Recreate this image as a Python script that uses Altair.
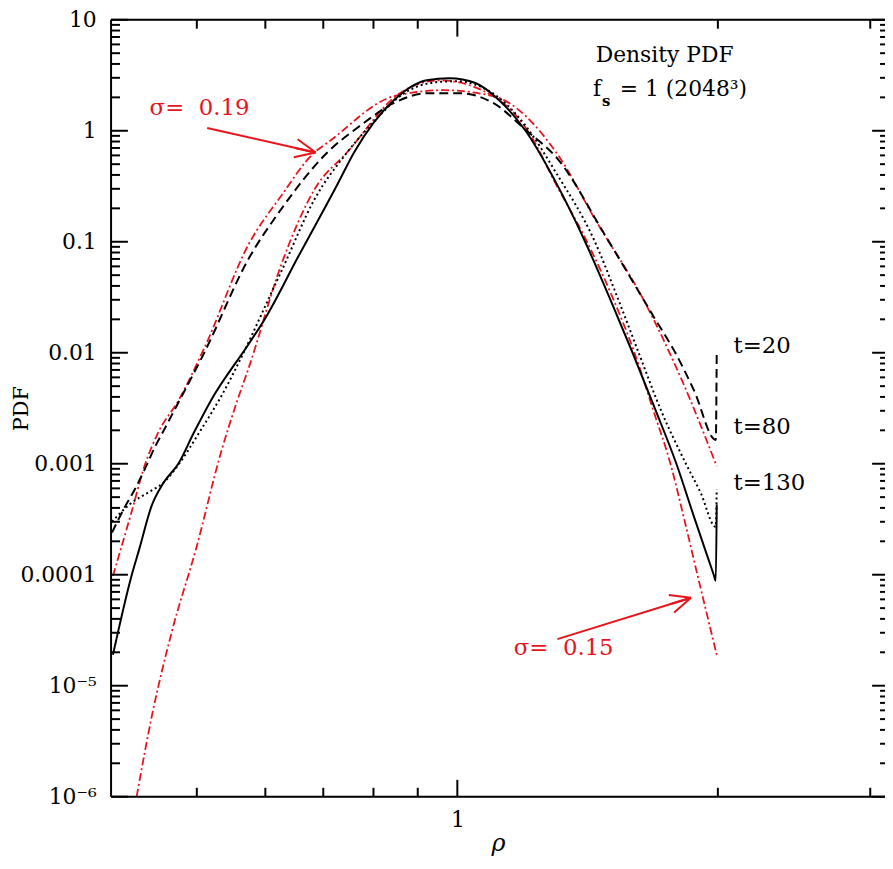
import altair as alt
import pandas as pd

# ---------------- data ----------------
# t=130 (solid black)
t130_rho = [0.400, 0.420, 0.429, 0.443, 0.458, 0.476, 0.496, 0.519, 0.574, 0.600, 0.654, 0.727, 0.760, 0.845, 0.922, 0.979, 1.051, 1.117, 1.199, 1.298, 1.405, 1.500, 1.594, 1.690, 1.791, 1.880, 1.978, 1.989, 1.994]
t130_pdf = [1.9e-5, 9.6e-5, 1.7e-4, 4.1e-4, 6.8e-4, 1.0e-3, 1.9e-3, 3.7e-3, 1.2e-2, 0.0205, 0.072, 0.33, 0.64, 1.89, 2.85, 2.97, 2.68, 1.89, 1.0, 0.35, 0.1, 0.031, 0.01, 0.0032, 0.001, 0.00032, 1.0e-4, 8.8e-5, 4.3e-4]

# t=80 (dotted black)
t80_rho = [0.399, 0.418, 0.441, 0.458, 0.477, 0.503, 0.530, 0.626, 0.684, 0.746, 0.800, 0.870, 0.950, 1.000, 1.050, 1.120, 1.200, 1.300, 1.442, 1.530, 1.620, 1.720, 1.837, 1.910, 1.989, 1.994]
t80_pdf = [3.0e-4, 4.3e-4, 5.6e-4, 6.8e-4, 1.0e-3, 1.9e-3, 3.7e-3, 0.054, 0.242, 0.64, 1.2, 2.2, 2.75, 2.8, 2.6, 1.95, 1.1, 0.42, 0.1, 0.032, 0.01, 0.003, 0.001, 5.5e-4, 2.7e-4, 5.9e-4]

# t=20 (dashed black)
t20_rho = [0.399, 0.413, 0.424, 0.435, 0.447, 0.458, 0.469, 0.510, 0.574, 0.626, 0.708, 0.772, 0.845, 0.922, 1.005, 1.100, 1.199, 1.308, 1.481, 1.690, 1.781, 1.877, 1.989, 1.994]
t20_pdf = [2.4e-4, 4.1e-4, 5.9e-4, 8.8e-4, 1.4e-3, 2.0e-3, 2.85e-3, 0.010, 0.0705, 0.197, 0.64, 1.11, 1.78, 2.18, 2.18, 1.78, 1.02, 0.55, 0.115, 0.0205, 0.0104, 0.00458, 0.00164, 0.0104]

# lognormal sigma = 0.19 (red dash-dot, wide)
s19_rho = [0.400, 0.420, 0.435, 0.451, 0.476, 0.510, 0.574, 0.626, 0.684, 0.708, 0.845, 0.964, 1.100, 1.308, 1.442, 1.645, 1.830, 1.994]
s19_pdf = [9.8e-5, 3.6e-4, 9.5e-4, 1.9e-3, 3.7e-3, 0.011, 0.095, 0.26, 0.64, 0.78, 2.05, 2.32, 2.05, 0.60, 0.16, 0.029, 0.005, 0.00095]

# lognormal sigma = 0.15 (red dash-dot, narrow)
s15_rho = [0.426, 0.444, 0.468, 0.499, 0.533, 0.557, 0.574, 0.626, 0.684, 0.746, 0.858, 0.954, 1.100, 1.206, 1.300, 1.412, 1.510, 1.602, 1.685, 1.763, 1.830, 1.894, 1.940, 1.994]
s15_pdf = [1e-6, 5.5e-6, 3.1e-5, 1.71e-4, 1.25e-3, 3.73e-3, 0.0073, 0.0623, 0.297, 0.64, 2.18, 2.85, 2.05, 1.0, 0.33, 0.1, 0.032, 0.01, 0.003, 0.001, 3.1e-4, 1.0e-4, 4.6e-5, 1.9e-5]

# axis ticks
y_major = [1e-6, 1e-5, 1e-4, 1e-3, 1e-2, 1e-1, 1, 10]
y_labels = ["10⁻⁶", "10⁻⁵", "0.0001", "0.001", "0.01", "0.1", "1", "10"]
minor_mantissa = [2, 3, 4, 5, 6, 7, 8, 9]
y_decades = [1e-6, 1e-5, 1e-4, 1e-3, 1e-2, 1e-1, 1]
x_major = [1]
x_labels = ["1"]
x_minor = [0.5, 0.6, 0.7, 0.8, 0.9, 2, 3]

# annotations (positions in data units)
head_text = ["Density PDF", "f", "= 1 (2048³)"]
head_rho = [1.445, 1.435, 1.541]
head_pdf = [4.77, 2.37, 2.37]
sub_text = ["s"]
sub_rho = [1.469]
sub_pdf = [1.85]
t_text = ["t=20", "t=80", "t=130"]
t_rho = [2.085, 2.085, 2.085]
t_pdf = [0.0115, 0.00214, 0.00067]
sig_text = ["σ=\u00a0\u00a00.19", "σ=\u00a0\u00a00.15"]
sig_rho = [0.441, 1.162]
sig_pdf = [1.60, 2.18e-5]
arrow_rho0 = [0.514, 1.305]
arrow_pdf0 = [1.06, 2.63e-5]
arrow_rho1 = [0.686, 1.862]
arrow_pdf1 = [0.637, 6.2e-5]
arrow_angle = [12, 343]

# ---------------- chart ----------------
W, H = 781, 784
FONT = "DejaVu Serif"
RED = "#e8141c"

x_scale = alt.Scale(type="log", domain=[0.398, 3.12], nice=False)
y_scale = alt.Scale(type="log", domain=[1e-6, 10], nice=False)

y_expr = " : ".join(
    f"datum.value > {v * 0.5} ? '{l}'" for v, l in zip(reversed(y_major[1:]), reversed(y_labels[1:]))
) + f" : '{y_labels[0]}'"

x_axis = alt.Axis(values=x_major, labelExpr=f"'{x_labels[0]}'", ticks=False, domain=False, grid=False,
                  labelFont=FONT, labelFontSize=22, labelPadding=13, labelColor="black",
                  title="ρ", titleFont=FONT, titleFontStyle="italic", titleFontSize=24,
                  titleFontWeight="normal", titleColor="black", titleY=54, titleBaseline="alphabetic")
y_axis = alt.Axis(values=y_major, labelExpr=y_expr, ticks=False, domain=False, grid=False,
                  labelFont=FONT, labelFontSize=22, labelPadding=15, labelColor="black",
                  title="PDF", titleFont=FONT, titleFontSize=21, titleFontWeight="normal",
                  titleColor="black", titleX=-90, titleY=392, titleBaseline="middle")


def X(field):
    return alt.X(f"{field}:Q", scale=x_scale, axis=x_axis)


def Y(field):
    return alt.Y(f"{field}:Q", scale=y_scale, axis=y_axis)


def curve(rho, pdf, color, dash, width=2.0):
    df = pd.DataFrame({"rho": rho, "pdf": pdf, "i": list(range(len(rho)))})
    kw = dict(color=color, strokeWidth=width, clip=True, interpolate="monotone")
    if dash:
        kw["strokeDash"] = dash
    return alt.Chart(df).mark_line(**kw).encode(x=X("rho"), y=Y("pdf"), order="i:Q")


layers = [
    curve(s19_rho, s19_pdf, RED, [8, 3, 2, 3], 1.8),
    curve(s15_rho, s15_pdf, RED, [8, 3, 2, 3], 1.8),
    curve(t20_rho, t20_pdf, "black", [9, 5], 2.0),
    curve(t80_rho, t80_pdf, "black", [2, 3], 2.0),
    curve(t130_rho, t130_pdf, "black", None, 2.0),
]

# ticks
y_minor = [m * d for d in y_decades for m in minor_mantissa]
ydf_major = pd.DataFrame({"v": y_major})
ydf_minor = pd.DataFrame({"v": y_minor})
xdf_major = pd.DataFrame({"v": x_major})
xdf_minor = pd.DataFrame({"v": x_minor})
tk = dict(color="black", strokeWidth=2)
layers += [
    alt.Chart(ydf_major).mark_rule(**tk).encode(y=Y("v"), x=alt.value(0), x2=alt.value(17)),
    alt.Chart(ydf_minor).mark_rule(**tk).encode(y=Y("v"), x=alt.value(0), x2=alt.value(9)),
    alt.Chart(ydf_major).mark_rule(**tk).encode(y=Y("v"), x=alt.value(W - 13), x2=alt.value(W)),
    alt.Chart(ydf_minor).mark_rule(**tk).encode(y=Y("v"), x=alt.value(W - 5), x2=alt.value(W)),
    alt.Chart(xdf_major).mark_rule(**tk).encode(x=X("v"), y=alt.value(H), y2=alt.value(H - 17)),
    alt.Chart(xdf_minor).mark_rule(**tk).encode(x=X("v"), y=alt.value(H), y2=alt.value(H - 9)),
    alt.Chart(xdf_major).mark_rule(**tk).encode(x=X("v"), y=alt.value(0), y2=alt.value(17)),
    alt.Chart(xdf_minor).mark_rule(**tk).encode(x=X("v"), y=alt.value(0), y2=alt.value(9)),
]

# frame (right side lies outside the window)
one = alt.Data(values=[{"a": 1}])
layers += [
    alt.Chart(one).mark_rule(**tk).encode(x=alt.value(0), y=alt.value(0), y2=alt.value(H)),
    alt.Chart(one).mark_rule(**tk).encode(x=alt.value(0), x2=alt.value(W + 5), y=alt.value(0)),
    alt.Chart(one).mark_rule(**tk).encode(x=alt.value(0), x2=alt.value(W + 5), y=alt.value(H)),
]

# text labels
head_df = pd.DataFrame({"rho": head_rho, "pdf": head_pdf, "t": head_text})
sub_df = pd.DataFrame({"rho": sub_rho, "pdf": sub_pdf, "t": sub_text})
t_df = pd.DataFrame({"rho": t_rho, "pdf": t_pdf, "t": t_text})
sig_df = pd.DataFrame({"rho": sig_rho, "pdf": sig_pdf, "t": sig_text})
txt = dict(align="left", baseline="middle", font=FONT)
layers += [
    alt.Chart(head_df).mark_text(color="black", fontSize=22, **txt).encode(x=X("rho"), y=Y("pdf"), text="t:N"),
    alt.Chart(sub_df).mark_text(color="black", fontSize=15, fontWeight="bold", **txt).encode(x=X("rho"), y=Y("pdf"), text="t:N"),
    alt.Chart(t_df).mark_text(color="black", fontSize=23, **txt).encode(x=X("rho"), y=Y("pdf"), text="t:N"),
    alt.Chart(sig_df).mark_text(color=RED, fontSize=23, **txt).encode(x=X("rho"), y=Y("pdf"), text="t:N"),
]

# arrows
arr_df = pd.DataFrame({"r0": arrow_rho0, "p0": arrow_pdf0, "r1": arrow_rho1, "p1": arrow_pdf1, "a": arrow_angle})
head = "M0,0L-1,-0.45M0,0L-1,0.45M-0.2,0L-1,0"
layers += [
    alt.Chart(arr_df).mark_rule(color=RED, strokeWidth=2).encode(
        x=X("r0"), y=Y("p0"), x2="r1:Q", y2="p1:Q"),
]
for k in range(len(arrow_angle)):
    one_arrow = pd.DataFrame({"r1": [arrow_rho1[k]], "p1": [arrow_pdf1[k]]})
    layers.append(
        alt.Chart(one_arrow).mark_point(shape=head, size=1700, angle=arrow_angle[k], filled=False,
                                        stroke=RED, strokeWidth=2, opacity=1)
        .encode(x=X("r1"), y=Y("p1"))
    )

chart = alt.layer(*layers).properties(
    width=W, height=H,
    autosize=alt.AutoSizeParams(type="none"),
    padding={"left": 104, "top": 8, "right": 0, "bottom": 61},
).configure_view(stroke=None).configure(background="white")

chart.save("out.html", embed_options={"renderer": "svg", "actions": False})
